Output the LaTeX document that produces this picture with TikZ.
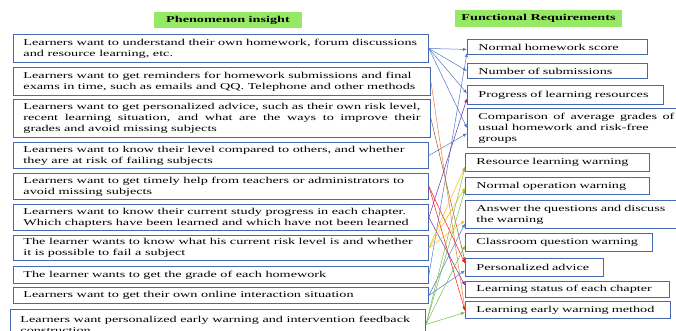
\documentclass[tikz,border=0pt]{standalone}
\usepackage{fontspec}
\setmainfont{Liberation Serif}[FakeStretch=1.58]
\usepackage{tikz}
\usetikzlibrary{arrows.meta}

\definecolor{hdrgreen}{RGB}{150,233,100}
\definecolor{boxblue}{RGB}{70,105,180}
\definecolor{cblue}{RGB}{78,120,205}
\definecolor{corange}{RGB}{237,125,49}
\definecolor{cbrown}{RGB}{150,95,50}
\definecolor{cred}{RGB}{255,20,20}
\definecolor{cpurple}{RGB}{112,48,160}
\definecolor{cyellow}{RGB}{255,192,0}
\definecolor{cgreen}{RGB}{120,185,80}

\begin{document}
\begin{tikzpicture}[x=1pt, y=-1pt,
        font=\fontsize{9pt}{11pt}\selectfont,
        heading/.style={fill=hdrgreen, inner sep=0pt, font=\fontsize{9pt}{11pt}\selectfont\bfseries},
        insight/.style={draw=boxblue, line width=0.9pt, anchor=north west,
                        inner xsep=10pt, inner ysep=0pt, text width=395pt, align=justify},
        reqbox/.style={draw=boxblue, line width=0.9pt, anchor=north west,
                       inner xsep=11pt, inner ysep=0pt, align=left},
        link/.style={-{Latex[length=4pt,width=3.2pt]}, line width=0.5pt}]

                \useasboundingbox (0, 0) rectangle (676, 331);

                % headings
                \node[heading, minimum width=148pt, minimum height=16pt] (hins) at (228, 20) {Phenomenon insight};
                \node[heading, minimum width=167pt, minimum height=17pt] (hreq) at (538.5, 18.5) {Functional Requirements};

                % phenomenon insight
                \node[insight, minimum height=28pt] (ins1) at (13, 34)
                    {Learners want to understand their own homework, forum discussions\\and resource learning, etc.};
                \node[insight, minimum height=28pt, text width=397pt] (ins2) at (13, 67)
                    {Learners want to get reminders for homework submissions and final\\exams in time, such as emails and QQ. Telephone and other methods};
                \node[insight, minimum height=38pt, text width=397pt] (ins3) at (13, 99)
                    {Learners want to get personalized advice, such as their own risk level,\linebreak
                     recent learning situation, and what are the ways to improve their\linebreak
                     grades and avoid missing subjects};
                \node[insight, minimum height=26pt] (ins4) at (13, 142)
                    {Learners want to know their level compared to others, and whether\\they are at risk of failing subjects};
                \node[insight, minimum height=26pt] (ins5) at (13, 173)
                    {Learners want to get timely help from teachers or administrators to\\avoid missing subjects};
                \node[insight, minimum height=26pt] (ins6) at (13, 204)
                    {Learners want to know their current study progress in each chapter.\\Which chapters have been learned and which have not been learned};
                \node[insight, minimum height=25pt] (ins7) at (13, 235)
                    {The learner wants to know what his current risk level is and whether\\it is possible to fail a subject};
                \node[insight, minimum height=17pt] (ins8) at (13, 266)
                    {The learner wants to get the grade of each homework};
                \node[insight, minimum height=16pt] (ins9) at (13, 287)
                    {Learners want to get their own online interaction situation};
                \node[insight, minimum height=30pt] (ins10) at (10, 309)
                    {Learners want personalized early warning and intervention feedback\\construction};

                % functional requirements
                \node[reqbox, minimum height=15pt, text width=158pt] (req1) at (467, 39) {Normal homework score};
                \node[reqbox, minimum height=15pt, text width=158pt] (req2) at (467, 63) {Number of submissions};
                \node[reqbox, minimum height=19pt, text width=174pt] (req3) at (467, 85) {Progress of learning resources};
                \node[reqbox, minimum height=39pt, text width=196pt, align=justify] (req4) at (467, 108)
                    {Comparison of average grades of\linebreak usual homework and risk-free\\groups};
                \node[reqbox, minimum height=18pt, text width=162pt] (req5) at (465, 153) {Resource learning warning};
                \node[reqbox, minimum height=17pt, text width=162pt] (req6) at (465, 177) {Normal operation warning};
                \node[reqbox, minimum height=28pt, text width=200pt] (req7) at (465, 200)
                    {Answer the questions and discuss\\the warning};
                \node[reqbox, minimum height=18pt, text width=165pt] (req8) at (465, 233) {Classroom question warning};
                \node[reqbox, minimum height=18pt, text width=116pt] (req9) at (465, 258) {Personalized advice};
                \node[reqbox, minimum height=16pt, text width=182pt] (req10) at (465, 281) {Learning status of each chapter};
                \node[reqbox, minimum height=17pt, text width=183pt] (req11) at (465, 301) {Learning early warning method};

                % links
                \draw[link, cblue] (ins1.east) -- ([yshift=-2.5pt]req1.west);
                \draw[link, cblue] (ins1.east) -- (req2.west);
                \draw[link, cblue] (ins1.east) -- ([yshift=1.5pt]req3.west);
                \draw[link, cblue] (ins1.east) -- (req4.west);
                \draw[link, cblue] (ins4.east) -- ([yshift=-5.5pt]req4.west);
                \draw[link, cblue] (ins8.east) -- ([yshift=-6pt]req1.west);
                \draw[link, corange] (ins2.east) -- (req11.west);
                \draw[link, cbrown] (ins3.east) -- ([yshift=6pt]req9.west);
                \draw[link, cred] (ins5.east) -- ([yshift=4pt]req9.west);
                \draw[link, cred] (ins5.east) -- ([yshift=-1pt]req11.west);
                \draw[link, cpurple] (ins6.east) -- ([yshift=-3.5pt]req3.west);
                \draw[link, cpurple] (ins6.east) -- ([yshift=4pt]req10.west);
                \draw[link, cyellow] (ins7.east) -- ([yshift=-4pt]req5.west);
                \draw[link, cyellow] (ins7.east) -- ([yshift=-1.5pt]req6.west);
                \draw[link, cyellow] (ins7.east) -- ([yshift=-6pt]req7.west);
                \draw[link, cblue] (ins9.east) -- ([yshift=-9pt]req7.west);
                \draw[link, cblue] (ins9.east) -- ([yshift=-3pt]req9.west);
                \draw[link, cgreen] (ins10.east) -- ([yshift=-5pt]req5.west);
                \draw[link, cgreen] (ins10.east) -- ([yshift=-3.5pt]req6.west);
                \draw[link, cgreen] (ins10.east) -- ([yshift=-3pt]req8.west);
                \draw[link, cgreen] (ins10.east) -- ([yshift=-2.5pt]req11.west);
\end{tikzpicture}
\end{document}
